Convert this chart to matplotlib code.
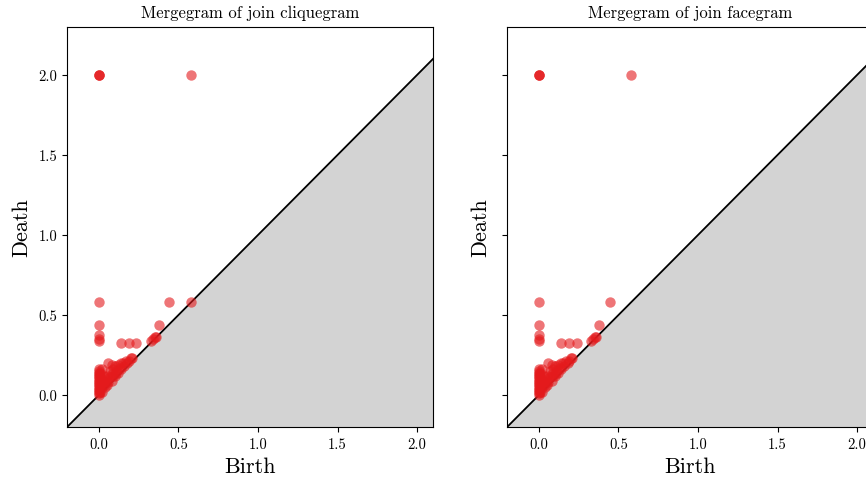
import matplotlib
matplotlib.use("Agg")
import matplotlib.pyplot as plt
import numpy as np

plt.rcParams['font.family'] = ['cmr10', 'DejaVu Serif']
plt.rcParams['mathtext.fontset'] = 'cm'
plt.rcParams['axes.formatter.use_mathtext'] = True

# Left: mergegram of join cliquegram (birth, death)
clique_birth = [0, 0, 0, 0.58,
                0, 0.44, 0.58,
                0, 0.375,
                0, 0, 0,
                0.14, 0.19, 0.235,
                0.33, 0.34, 0.35, 0.36,
                0, 0, 0, 0, 0, 0, 0, 0, 0, 0, 0, 0, 0, 0, 0, 0, 0,
                0.01, 0.02, 0.02, 0.03, 0.03, 0.01, 0.02,
                0.02, 0.04, 0.05, 0.06, 0.08, 0.10, 0.12, 0.14, 0.16, 0.18, 0.19, 0.20, 0.21,
                0.06, 0.08, 0.10, 0.12, 0.14, 0.15, 0.17, 0.07, 0.09, 0.05, 0.04, 0.08, 0.11, 0.13,
                0.03, 0.05, 0.07, 0.09, 0.11]
clique_death = [2.0, 2.0, 2.0, 2.0,
                0.58, 0.58, 0.58,
                0.44, 0.44,
                0.375, 0.35, 0.34,
                0.325, 0.325, 0.325,
                0.34, 0.35, 0.36, 0.365,
                0.0, 0.01, 0.02, 0.03, 0.04, 0.05, 0.06, 0.07, 0.08, 0.09, 0.10, 0.11, 0.12, 0.13, 0.14, 0.15, 0.16,
                0.02, 0.05, 0.10, 0.08, 0.12, 0.14, 0.16,
                0.02, 0.05, 0.06, 0.08, 0.09, 0.12, 0.14, 0.16, 0.18, 0.20, 0.21, 0.23, 0.23,
                0.20, 0.19, 0.18, 0.19, 0.20, 0.20, 0.21, 0.15, 0.16, 0.12, 0.10, 0.13, 0.15, 0.17,
                0.06, 0.09, 0.11, 0.12, 0.14]

# Right: mergegram of join facegram (birth, death)
face_birth = [0, 0, 0, 0.58,
              0, 0.445,
              0, 0.38,
              0, 0, 0,
              0.14, 0.19, 0.24,
              0.33, 0.34, 0.35, 0.36,
              0, 0, 0, 0, 0, 0, 0, 0, 0, 0, 0, 0, 0, 0, 0, 0, 0,
              0.01, 0.02, 0.02, 0.03, 0.03, 0.01, 0.02,
              0.02, 0.04, 0.05, 0.06, 0.08, 0.10, 0.12, 0.14, 0.16, 0.18, 0.19, 0.20, 0.21,
              0.06, 0.08, 0.10, 0.12, 0.14, 0.15, 0.17, 0.07, 0.09, 0.05, 0.04, 0.08, 0.11, 0.13,
              0.03, 0.05, 0.07, 0.09, 0.11]
face_death = [2.0, 2.0, 2.0, 2.0,
              0.58, 0.58,
              0.44, 0.44,
              0.375, 0.35, 0.34,
              0.325, 0.325, 0.325,
              0.34, 0.35, 0.36, 0.365,
              0.0, 0.01, 0.02, 0.03, 0.04, 0.05, 0.06, 0.07, 0.08, 0.09, 0.10, 0.11, 0.12, 0.13, 0.14, 0.15, 0.16,
              0.02, 0.05, 0.10, 0.08, 0.12, 0.14, 0.16,
              0.02, 0.05, 0.06, 0.08, 0.09, 0.12, 0.14, 0.16, 0.18, 0.20, 0.21, 0.23, 0.23,
              0.20, 0.19, 0.18, 0.19, 0.20, 0.20, 0.21, 0.15, 0.16, 0.12, 0.10, 0.13, 0.15, 0.17,
              0.06, 0.09, 0.11, 0.12, 0.14]

titles = ["Mergegram of join cliquegram", "Mergegram of join facegram"]
ticks = [0.0, 0.5, 1.0, 1.5, 2.0]
xlim = (-0.2, 2.1)
ylim = (-0.2, 2.3)

fig = plt.figure(figsize=(8.66, 4.81), dpi=100)
ax1 = fig.add_axes([0.0774, 0.110, 0.4226, 0.832])
ax2 = fig.add_axes([0.5855, 0.110, 0.4226, 0.832])

for ax, bx, dy, title, show_labels in [(ax1, clique_birth, clique_death, titles[0], True),
                                       (ax2, face_birth, face_death, titles[1], False)]:
    ax.fill_between(list(xlim), list(xlim), ylim[0], color='lightgray', zorder=1)
    ax.plot(list(xlim), list(xlim), color='black', lw=1.3, zorder=2)
    ax.scatter(bx, dy, s=56, color='#e41a1c', alpha=0.6, linewidths=0, zorder=3)
    ax.set_xlim(*xlim)
    ax.set_ylim(*ylim)
    ax.set_xticks(ticks)
    ax.set_yticks(ticks)
    ax.set_xticklabels([f"{t:.1f}" for t in ticks])
    if show_labels:
        ax.set_yticklabels([f"{t:.1f}" for t in ticks])
    else:
        ax.set_yticklabels([])
    ax.tick_params(labelsize=10.5)
    ax.set_title(title, fontsize=12, pad=7)
    ax.set_xlabel("Birth", fontsize=16, labelpad=4)
    ax.set_ylabel("Death", fontsize=16, labelpad=5)

fig.savefig("out.png", dpi=100)
